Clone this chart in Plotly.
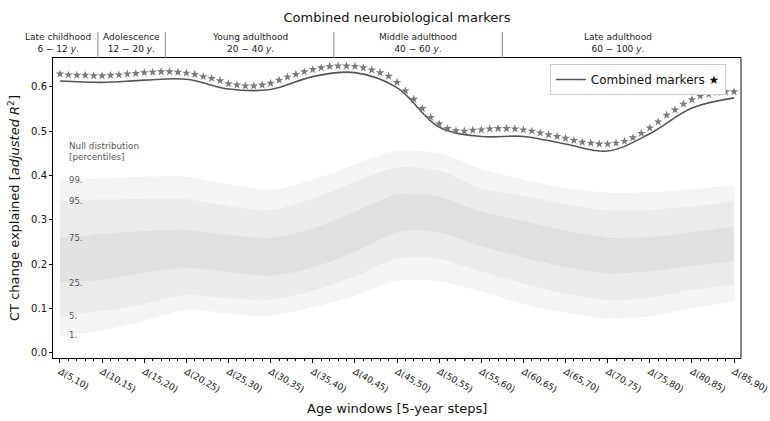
import plotly.graph_objects as go

# ---------------- data ----------------
tick_labels = ["Δ(5,10)", "Δ(10,15)", "Δ(15,20)", "Δ(20,25)", "Δ(25,30)", "Δ(30,35)",
               "Δ(35,40)", "Δ(40,45)", "Δ(45,50)", "Δ(50,55)", "Δ(55,60)", "Δ(60,65)",
               "Δ(65,70)", "Δ(70,75)", "Δ(75,80)", "Δ(80,85)", "Δ(85,90)"]
tick_pos = [0, 5, 10, 15, 20, 25, 30, 35, 40, 45, 50, 55, 60, 65, 70, 75, 80]

# yearly positions for the star markers
year_pos = list(range(81))
stars = [0.629, 0.627, 0.626, 0.626, 0.625, 0.625, 0.626, 0.627, 0.629, 0.630,
         0.632, 0.633, 0.634, 0.634, 0.633, 0.631, 0.628, 0.623, 0.619, 0.614,
         0.607, 0.604, 0.602, 0.602, 0.604, 0.608, 0.615, 0.622, 0.628, 0.634,
         0.639, 0.643, 0.646, 0.647, 0.647, 0.646, 0.643, 0.638, 0.632, 0.624,
         0.610, 0.591, 0.572, 0.551, 0.531, 0.516, 0.506, 0.501, 0.500, 0.502,
         0.503, 0.505, 0.506, 0.506, 0.505, 0.503, 0.500, 0.496, 0.492, 0.488,
         0.484, 0.479, 0.475, 0.473, 0.471, 0.471, 0.473, 0.477, 0.485, 0.495,
         0.507, 0.521, 0.536, 0.548, 0.561, 0.571, 0.579, 0.583, 0.587, 0.589,
         0.589]

# smoothed combined-marker curve at the 5-year ticks
combined = [0.613, 0.610, 0.615, 0.617, 0.595, 0.594, 0.623, 0.632, 0.598,
            0.509, 0.488, 0.488, 0.471, 0.455, 0.494, 0.552, 0.575]

# null distribution percentiles at the 5-year ticks
p1  = [0.039, 0.050, 0.072, 0.097, 0.088, 0.083, 0.103, 0.128, 0.162,
       0.162, 0.138, 0.110, 0.090, 0.077, 0.082, 0.100, 0.115]
p5  = [0.082, 0.094, 0.110, 0.130, 0.123, 0.120, 0.140, 0.172, 0.212,
       0.212, 0.183, 0.156, 0.133, 0.119, 0.124, 0.142, 0.153]
p25 = [0.157, 0.165, 0.180, 0.191, 0.182, 0.174, 0.192, 0.228, 0.272,
       0.272, 0.240, 0.215, 0.193, 0.179, 0.184, 0.196, 0.205]
p75 = [0.259, 0.268, 0.274, 0.277, 0.266, 0.259, 0.280, 0.318, 0.357,
       0.352, 0.318, 0.297, 0.275, 0.260, 0.261, 0.272, 0.284]
p95 = [0.342, 0.346, 0.347, 0.346, 0.331, 0.322, 0.348, 0.385, 0.418,
       0.411, 0.370, 0.354, 0.336, 0.321, 0.322, 0.330, 0.340]
p99 = [0.389, 0.393, 0.397, 0.397, 0.380, 0.368, 0.390, 0.425, 0.455,
       0.450, 0.415, 0.391, 0.372, 0.361, 0.362, 0.369, 0.378]

# life periods header
period_names = ["Late childhood", "Adolescence", "Young adulthood", "Middle adulthood", "Late adulthood"]
period_ages = ["6 − 12", "12 − 20", "20 − 40", "40 − 60", "60 − 100"]
period_centers = [-0.25, 8.5, 22.5, 42.5, 66.25]
period_bounds = [4.5, 12.5, 32.5, 52.5]

FONT = "DejaVu Sans"

fig = go.Figure()

# --------- null distribution bands ---------
band_pairs = [(p1, p99, "#f4f4f4"), (p5, p95, "#ebebeb"), (p25, p75, "#e1e1e1")]
for lo, hi, col in band_pairs:
    fig.add_trace(go.Scatter(x=tick_pos, y=lo, mode="lines", line=dict(width=0, shape="spline", smoothing=0.8),
                             showlegend=False, hoverinfo="skip"))
    fig.add_trace(go.Scatter(x=tick_pos, y=hi, mode="lines", line=dict(width=0, shape="spline", smoothing=0.8),
                             fill="tonexty", fillcolor=col, showlegend=False, hoverinfo="skip"))

# --------- combined markers ---------
fig.add_trace(go.Scatter(x=tick_pos, y=combined, mode="lines",
                         line=dict(color="#555555", width=1.6, shape="spline", smoothing=1.0),
                         name="Combined markers ★"))
fig.add_trace(go.Scatter(x=year_pos, y=stars, mode="markers",
                         marker=dict(symbol="star", size=6.5, color="#7a7a7a", line=dict(width=0)),
                         showlegend=False))

# --------- percentile labels ---------
pct_labels = ["99.", "95.", "75.", "25.", "5.", "1."]
pct_first = [p99[0], p95[0], p75[0], p25[0], p5[0], p1[0]]
for lab, yv in zip(pct_labels, pct_first):
    fig.add_annotation(x=0.8, y=yv, xref="x", yref="y", text=lab, showarrow=False,
                       xanchor="left", yanchor="middle", font=dict(family=FONT, size=8.5, color="#555555"))
fig.add_annotation(x=0.8, y=0.4535, xref="x", yref="y", text="Null distribution<br>[percentiles]",
                   showarrow=False, xanchor="left", yanchor="middle", align="left",
                   font=dict(family=FONT, size=8.8, color="#555555"))

# --------- header ---------
for name, ages, cx in zip(period_names, period_ages, period_centers):
    fig.add_annotation(x=cx, y=1, xref="x", yref="paper", text=f"{name}<br>{ages} <i>y</i>.",
                       showarrow=False, xanchor="center", yanchor="bottom", yshift=2,
                       font=dict(family=FONT, size=9, color="#222222"))
for b in period_bounds:
    fig.add_shape(type="line", x0=b, x1=b, xref="x", y0=1, y1=1.0867, yref="paper",
                  line=dict(color="#888888", width=1))

# right spine (gray)
fig.add_shape(type="line", x0=1, x1=1, xref="paper", y0=0, y1=1, yref="paper",
              line=dict(color="#888888", width=2))

# axis titles
fig.add_annotation(x=0.5, y=-0.1667, xref="paper", yref="paper", text="Age windows [5-year steps]",
                   showarrow=False, xanchor="center", yanchor="middle",
                   font=dict(family=FONT, size=13, color="#111111"))
fig.add_annotation(x=-0.0567, y=0.5, xref="paper", yref="paper",
                   text="CT change explained [<i>adjusted R</i><sup>2</sup>]",
                   showarrow=False, textangle=-90, xanchor="center", yanchor="middle",
                   font=dict(family=FONT, size=13, color="#111111"))

fig.update_layout(
    width=770, height=421,
    margin=dict(l=53, r=29, t=58, b=63, autoexpand=False),
    plot_bgcolor="white", paper_bgcolor="white",
    font=dict(family=FONT, size=10, color="#111111"),
    title=dict(text="Combined neurobiological markers", x=0.5, xref="paper", xanchor="center",
               y=1 - 17 / 421, yanchor="middle", font=dict(family=FONT, size=13, color="#111111")),
    showlegend=True,
    legend=dict(x=0.978, y=0.98, xanchor="right", yanchor="top", bgcolor="white",
                bordercolor="#cccccc", borderwidth=1, itemwidth=30,
                font=dict(family=FONT, size=12, color="#111111")),
)
fig.update_xaxes(range=[-0.83, 80.83], tickmode="array", tickvals=tick_pos,
                 ticktext=[t.replace("Δ", "<i>Δ</i>") for t in tick_labels], tickangle=30,
                 ticklabeloverflow="allow", automargin=False,
                 ticks="outside", ticklen=4, tickcolor="black", showgrid=False, zeroline=False,
                 showline=True, linecolor="black", linewidth=1, mirror=True,
                 tickfont=dict(family=FONT, size=9, color="#111111"),
                 minor=dict(dtick=1, tick0=0, ticks="outside", ticklen=2, tickcolor="black", showgrid=False))
fig.update_yaxes(range=[-0.012, 0.665], tickmode="array", tickvals=[0, 0.1, 0.2, 0.3, 0.4, 0.5, 0.6],
                 ticktext=["0.0", "0.1", "0.2", "0.3", "0.4", "0.5", "0.6"], automargin=False,
                 ticks="outside", ticklen=3, tickcolor="black", showgrid=False, zeroline=False,
                 showline=True, linecolor="black", linewidth=1, mirror=False,
                 tickfont=dict(family=FONT, size=10, color="#111111"))

fig.write_html("out.html")
